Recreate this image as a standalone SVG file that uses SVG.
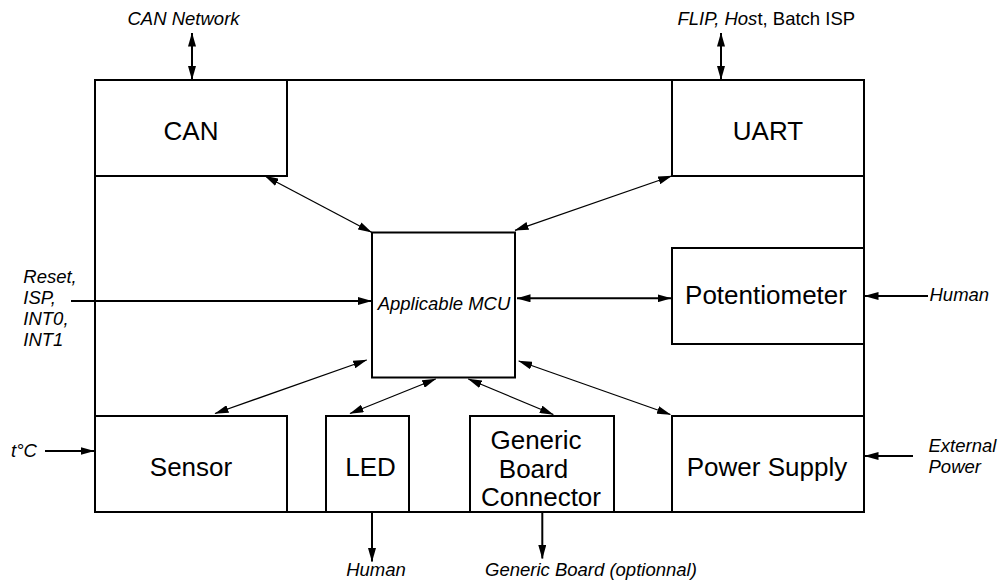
<svg xmlns="http://www.w3.org/2000/svg" width="998" height="580" viewBox="0 0 998 580">
<style>
.box{fill:none;stroke:#000;stroke-width:2}
.lbl{font-family:"Liberation Sans",Arial,sans-serif;font-size:26px;fill:#000;text-anchor:middle}
.it{font-family:"Liberation Sans",Arial,sans-serif;font-size:18.5px;font-style:italic;fill:#000}
.rm{font-style:normal}
.thick{stroke:#000;stroke-width:2;fill:none}
.thin{stroke:#000;stroke-width:1.3;fill:none}
</style>
<defs>
<marker id="ah" viewBox="0 0 14 8" refX="13.5" refY="4" markerWidth="14" markerHeight="8" markerUnits="userSpaceOnUse" orient="auto-start-reverse">
<path d="M0,0 L14,4 L0,8 z" fill="#000"/>
</marker>
</defs>
<rect id="board" class="box" x="95" y="80" width="769" height="432"/>
<g id="can"><rect class="box" x="95" y="80" width="192" height="96"/><text class="lbl" x="191" y="140">CAN</text></g>
<g id="uart"><rect class="box" x="672" y="80" width="192" height="96"/><text class="lbl" x="768" y="140">UART</text></g>
<g id="mcu"><rect class="box" x="372" y="232.5" width="143" height="145"/><text class="it" x="444" y="310" text-anchor="middle">Applicable MCU</text></g>
<g id="pot"><rect class="box" x="672" y="248" width="192" height="96"/><text class="lbl" x="766" y="304">Potentiometer</text></g>
<g id="sensor"><rect class="box" x="95" y="416" width="192" height="96"/><text class="lbl" x="191" y="475.5">Sensor</text></g>
<g id="led"><rect class="box" x="326" y="416" width="83" height="96"/><text class="lbl" x="370.5" y="475.5">LED</text></g>
<g id="gbc"><rect class="box" x="470" y="416" width="144" height="96"/><text class="lbl" x="536" y="449">Generic</text><text class="lbl" x="533.5" y="478">Board</text><text class="lbl" x="541" y="505.5">Connector</text></g>
<g id="power"><rect class="box" x="672" y="416" width="192" height="96"/><text class="lbl" x="767" y="475.5">Power Supply</text></g>
<g id="labels">
<text class="it" x="127.5" y="25">CAN Network</text>
<text class="it" x="677.5" y="24.7">FLIP, Hos<tspan class="rm">t, Batch ISP</tspan></text>
<text class="it" x="23.3" y="282.5">Reset,</text>
<text class="it" x="23.3" y="304">ISP,</text>
<text class="it" x="23.3" y="325">INT0,</text>
<text class="it" x="23.3" y="346">INT1</text>
<text class="it" x="11" y="457">t°C</text>
<text class="it" x="929.5" y="301">Human</text>
<text class="it" x="928.5" y="451.5">External</text>
<text class="it" x="928.5" y="473">Power</text>
<text class="it" x="376" y="576" text-anchor="middle">Human</text>
<text class="it" x="485" y="576">Generic Board (optionnal)</text>
</g>
<g id="connectors">
<line class="thick" x1="192" y1="33" x2="192" y2="79.5" marker-start="url(#ah)" marker-end="url(#ah)"/>
<line class="thick" x1="721" y1="33" x2="721" y2="79.5" marker-start="url(#ah)" marker-end="url(#ah)"/>
<line class="thin" x1="265" y1="176" x2="371.5" y2="232.3" marker-start="url(#ah)" marker-end="url(#ah)"/>
<line class="thin" x1="671.7" y1="176" x2="515" y2="230.3" marker-start="url(#ah)" marker-end="url(#ah)"/>
<line class="thick" x1="71" y1="301" x2="371.5" y2="301" marker-end="url(#ah)"/>
<line class="thick" x1="517" y1="298.3" x2="671" y2="298.3" marker-start="url(#ah)" marker-end="url(#ah)"/>
<line class="thick" x1="928" y1="296" x2="865" y2="296" marker-end="url(#ah)"/>
<line class="thick" x1="913" y1="456" x2="865" y2="456" marker-end="url(#ah)"/>
<line class="thick" x1="45" y1="451" x2="94" y2="451" marker-end="url(#ah)"/>
<line class="thin" x1="366.7" y1="360" x2="215" y2="413.5" marker-start="url(#ah)" marker-end="url(#ah)"/>
<line class="thin" x1="435.7" y1="379" x2="350" y2="413.5" marker-start="url(#ah)" marker-end="url(#ah)"/>
<line class="thin" x1="468.3" y1="379" x2="553.3" y2="414.5" marker-start="url(#ah)" marker-end="url(#ah)"/>
<line class="thin" x1="518.7" y1="361" x2="670.5" y2="414.5" marker-start="url(#ah)" marker-end="url(#ah)"/>
<line class="thick" x1="372" y1="513" x2="372" y2="561.5" marker-end="url(#ah)"/>
<line class="thick" x1="542.3" y1="513" x2="542.3" y2="558.5" marker-end="url(#ah)"/>
</g>
</svg>
